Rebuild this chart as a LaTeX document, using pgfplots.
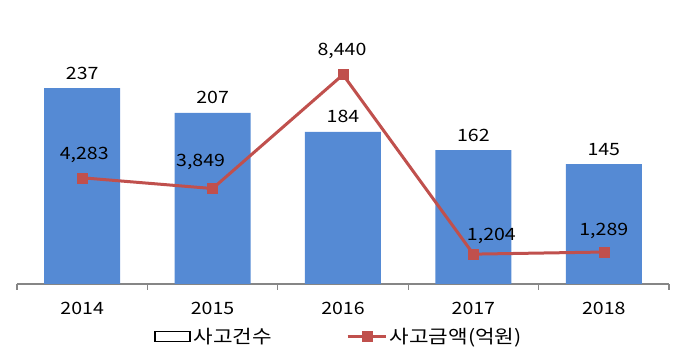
\documentclass[border=0pt]{standalone}
\usepackage{pgfplots}
\usepackage{pgfplotstable}
\pgfplotsset{compat=1.18}
\usepackage{fontspec}
\setmainfont{Noto Sans CJK KR}[FakeStretch=1.15]
\definecolor{barblue}{RGB}{85,138,212}
\definecolor{linered}{RGB}{192,80,77}
\definecolor{axgray}{RGB}{134,134,134}
\newcommand{\lblfont}{\fontsize{17}{20}\selectfont}
\newcommand{\legfont}{\fontsize{18.5}{22}\selectfont}

\pgfplotstableread{
x y
0 237
1 207
2 184
3 162
4 145
}\bardata

\pgfplotstableread{
x y
0 4283
1 3849
2 8440
3 1204
4 1289
}\linedata

\begin{document}
\begin{tikzpicture}
\path[use as bounding box] (-17pt,-72pt) rectangle (661pt,284pt);
\begin{axis}[
  scale only axis, width=652pt, height=248pt,
  at={(0pt,0pt)}, anchor=south west,
  xmin=-0.5, xmax=4.5, ymin=0, ymax=300,
  axis x line*=bottom, axis y line=none,
  x axis line style={axgray, line width=1.3pt, -},
  xtick={0,1,2,3,4},
  xticklabels={2014,2015,2016,2017,2018},
  major tick length=0pt,
  minor xtick={-0.5,0.5,1.5,2.5,3.5,4.5},
  minor tick length=6pt,
  tick align=outside,
  minor tick style={axgray, line width=1.3pt},
  major tick style={draw=none},
  xticklabel style={font=\lblfont, anchor=center, yshift=-24pt},
  /pgf/number format/assume math mode=true,
  ybar, bar width=76pt,
  clip=false,
]
\addplot[fill=barblue, draw=none,
  nodes near coords,
  every node near coord/.append style={font=\lblfont, black, anchor=center, yshift=15pt}]
  table[x=x,y=y]{\bardata};
\end{axis}
\begin{axis}[
  scale only axis, width=652pt, height=248pt,
  at={(0pt,0pt)}, anchor=south west,
  xmin=-0.5, xmax=4.5, ymin=0, ymax=10000,
  hide axis, clip=false,
  legend style={at={(0.494,-0.212)}, anchor=center, draw=none, fill=none,
    legend columns=2, font=\legfont, inner sep=0pt,
    /tikz/every even column/.append style={column sep=72pt},
    nodes={inner sep=2.5pt}},
]
\addlegendimage{legend image code/.code={\draw[black, line width=1.8pt, fill=white] (0pt,-5pt) rectangle (35pt,5pt);}}
\addlegendentry{사고건수}
\addplot[linered, line width=3pt, mark=square*, mark size=5pt,
  mark options={solid, line width=0.4pt},
  legend image code/.code={\draw[mark repeat=2, mark phase=2] plot coordinates {(0pt,0pt) (19pt,0pt) (38pt,0pt)};}]
  table[x=x,y=y]{\linedata};
\addlegendentry{사고금액(억원)}
\begin{scope}[every node/.style={font=\lblfont, black, anchor=center}]
\node[xshift=2pt, yshift=23pt] at (axis cs:0,4283) {4,283};
\node[xshift=-12pt, yshift=27pt] at (axis cs:1,3849) {3,849};
\node[xshift=-1pt, yshift=24pt] at (axis cs:2,8440) {8,440};
\node[xshift=18pt, yshift=18pt] at (axis cs:3,1204) {1,204};
\node[xshift=0pt, yshift=21pt] at (axis cs:4,1289) {1,289};
\end{scope}
\end{axis}
\end{tikzpicture}
\end{document}
